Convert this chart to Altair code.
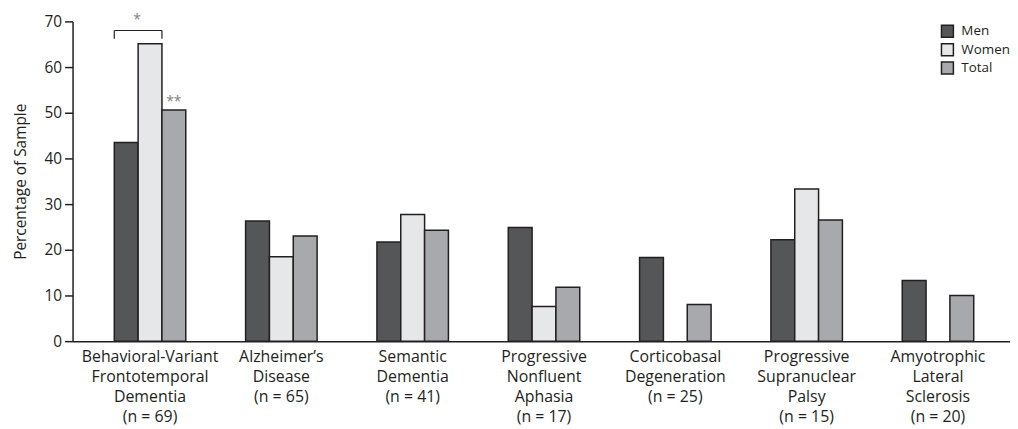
import altair as alt
import pandas as pd

categories = [
    "Behavioral-Variant|Frontotemporal|Dementia|(n = 69)",
    "Alzheimer’s|Disease|(n = 65)",
    "Semantic|Dementia|(n = 41)",
    "Progressive|Nonfluent|Aphasia|(n = 17)",
    "Corticobasal|Degeneration|(n = 25)",
    "Progressive|Supranuclear|Palsy|(n = 15)",
    "Amyotrophic|Lateral|Sclerosis|(n = 20)",
]
groups = ["Men", "Women", "Total"]
men = [43.5, 26.3, 21.7, 24.9, 18.3, 22.2, 13.3]
women = [65.1, 18.5, 27.7, 7.6, 0, 33.3, 0]
total = [50.6, 23.0, 24.3, 11.8, 8.0, 26.5, 10.0]
colors = ["#555658", "#e6e7e8", "#a7a9ac"]

rows = []
for i, c in enumerate(categories):
    for g, vals in zip(groups, [men, women, total]):
        rows.append({"category": c, "group": g, "value": vals[i]})
df = pd.DataFrame(rows)

FONT = "Open Sans"
INK = "#231f20"

xscale = alt.Scale(domain=categories, paddingInner=0.4556, paddingOuter=0.297, align=0.535)
offscale = alt.Scale(domain=groups, paddingInner=0, paddingOuter=0)

bars = alt.Chart(df).transform_filter("datum.value > 0").mark_bar(
    stroke=INK, strokeWidth=1.5
).encode(
    x=alt.X("category:N", sort=categories, scale=xscale,
            axis=alt.Axis(title=None, labelAngle=0, ticks=False,
                          labelExpr="split(datum.label, '|')",
                          labelFont=FONT, labelFontSize=16, labelColor=INK,
                          labelLineHeight=20.3, labelPadding=7,
                          domainColor=INK, domainWidth=1.5)),
    xOffset=alt.XOffset("group:N", sort=groups, scale=offscale),
    y=alt.Y("value:Q", scale=alt.Scale(domain=[0, 70], nice=False),
            axis=alt.Axis(title="Percentage of Sample", values=list(range(0, 71, 10)),
                          grid=False, tickSize=8, tickColor=INK, tickWidth=1.5,
                          domainColor=INK, domainWidth=1.5,
                          labelFont=FONT, labelFontSize=15.5, labelColor=INK, labelPadding=3,
                          titleFont=FONT, titleFontSize=15.5, titleFontWeight="normal",
                          titleColor=INK, titlePadding=16)),
    fill=alt.Fill("group:N", sort=groups,
                  scale=alt.Scale(domain=groups, range=colors),
                  legend=alt.Legend(title=None, orient="none", legendX=874, legendY=3,
                                    symbolType="square", symbolSize=144,
                                    symbolStrokeColor=INK, symbolStrokeWidth=1.5,
                                    labelFont=FONT, labelFontSize=13.5, labelColor=INK,
                                    labelOffset=7, rowPadding=0.5, padding=0)),
)

# significance bracket (Men vs Women, first category)
bracket_cat = [categories[0]]
bracket_top = [68.0]
bracket_leg = [66.2]
brk = pd.DataFrame({"category": bracket_cat, "top": bracket_top, "leg": bracket_leg})

xb = alt.X("category:N", sort=categories, scale=xscale)
leg_l = alt.Chart(brk).mark_rule(color=INK, strokeWidth=1.2, xOffset=-36).encode(
    x=xb, y="top:Q", y2="leg:Q",
)
leg_r = alt.Chart(brk).mark_rule(color=INK, strokeWidth=1.2, xOffset=12).encode(
    x=xb, y="top:Q", y2="leg:Q",
)
hline = alt.Chart(brk).mark_rule(color=INK, strokeWidth=1.2, xOffset=-36, x2Offset=12).encode(
    x=xb, x2=alt.X2("category:N"), y="top:Q",
)

stars = pd.DataFrame({
    "category": [categories[0], categories[0]],
    "group": ["Women", "Total"],
    "label": ["*", "**"],
    "value": [69.0, 50.6],
})
star1 = alt.Chart(stars.iloc[[0]]).mark_text(
    font=FONT, fontSize=14, color="#808080", baseline="alphabetic", dx=-13, dy=-2
).encode(
    x=xb, y="value:Q", text="label:N",
)
star2 = alt.Chart(stars.iloc[[1]]).mark_text(
    font=FONT, fontSize=14, color="#808080", baseline="alphabetic", dy=-4
).encode(
    x=xb,
    xOffset=alt.XOffset("group:N", sort=groups, scale=offscale),
    y="value:Q", text="label:N",
)

chart = alt.layer(bars, hline, leg_l, leg_r, star1, star2).properties(
    width=944, height=322,
    padding={"left": 65, "top": 12, "right": 0, "bottom": 89},
    autosize=alt.AutoSizeParams(type="none"),
).configure_view(stroke=None)

chart.save("out.html", embed_options={"renderer": "svg", "actions": False})
